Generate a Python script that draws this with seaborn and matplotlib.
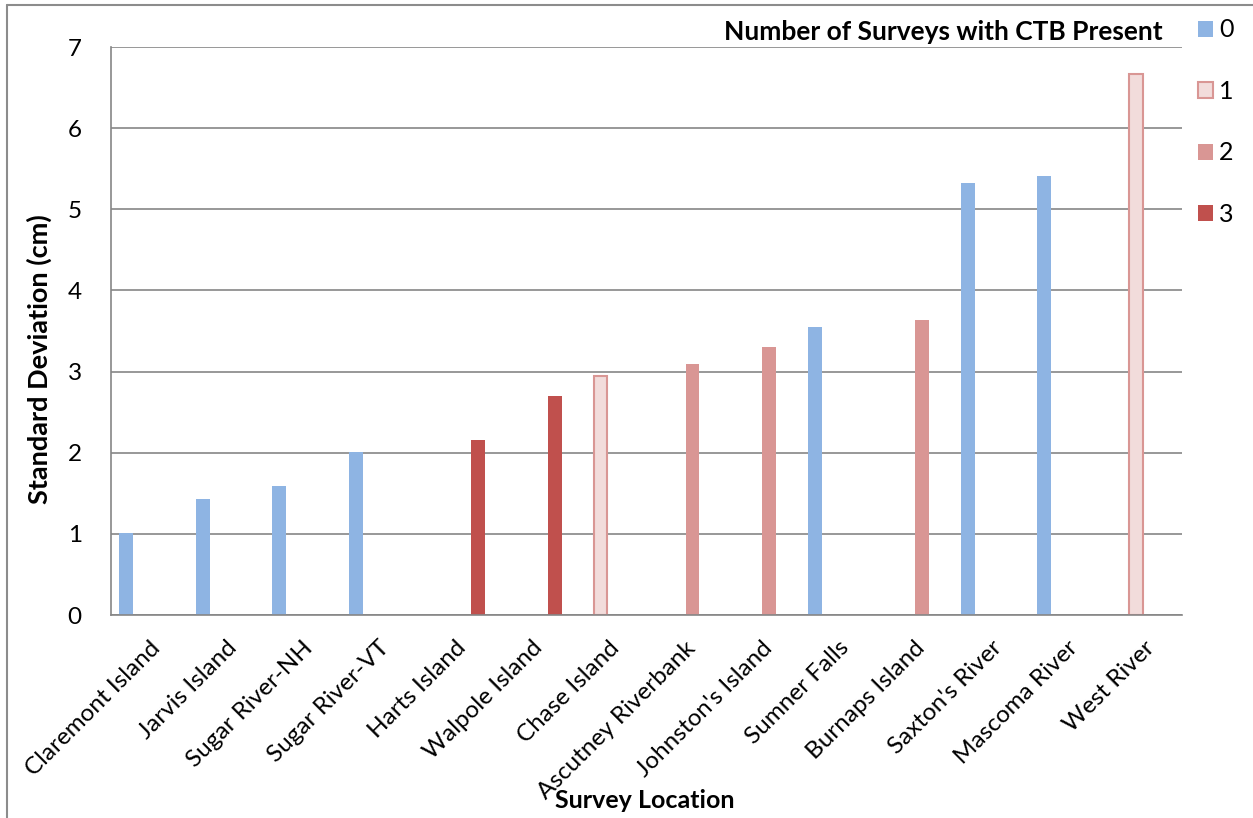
import matplotlib
matplotlib.use("Agg")
import matplotlib.pyplot as plt
import seaborn as sns
import pandas as pd
from matplotlib.lines import Line2D

# Survey locations, standard deviation of measurements, and number of surveys with CTB present
locations = ["Claremont Island", "Jarvis Island", "Sugar River-NH", "Sugar River-VT",
             "Harts Island", "Walpole Island", "Chase Island", "Ascutney Riverbank",
             "Johnston's Island", "Sumner Falls", "Burnaps Island", "Saxton's River",
             "Mascoma River", "West River"]
std_dev = [1.01, 1.43, 1.59, 2.01, 2.16, 2.70, 2.94, 3.09, 3.30, 3.55, 3.63, 5.33, 5.41, 6.67]
ctb_surveys = ["0", "0", "0", "0", "3", "3", "1", "2", "2", "0", "2", "0", "0", "1"]
hue_levels = ["0", "1", "2", "3"]
hue_colors = ["#8EB4E3", "#F2DCDB", "#D99694", "#C0504D"]
outline_color = "#D99694"

df = pd.DataFrame({"location": locations, "sd": std_dev, "ctb": ctb_surveys})

sns.set_theme(style="white")
plt.rcParams["font.family"] = ["Lato", "DejaVu Sans"]
plt.rcParams["text.color"] = "black"

W, H = 1253, 818
fig = plt.figure(figsize=(W / 100, H / 100), dpi=100)
ax = fig.add_axes([111 / W, 1 - 615 / H, (1182 - 111) / W, (615 - 47) / H])

sns.barplot(data=df, x="location", y="sd", hue="ctb", order=locations,
            hue_order=hue_levels, palette=dict(zip(hue_levels, hue_colors)),
            dodge=True, width=0.8, gap=0.1, saturation=1, linewidth=0,
            legend=True, ax=ax)

# outline the light series
for patch in ax.containers[1]:
    patch.set_edgecolor(outline_color)
    patch.set_linewidth(1.5)

grid_c = "#868686"
ax.set_ylim(0, 7)
ax.set_xlim(-0.5, len(locations) - 0.5)
ax.set_yticks(range(0, 8))
ax.yaxis.grid(True, color=grid_c, linewidth=1.2)
ax.set_axisbelow(True)

for s in ["top", "right"]:
    ax.spines[s].set_visible(False)
for s in ["left", "bottom"]:
    ax.spines[s].set_color(grid_c)
    ax.spines[s].set_linewidth(1.2)

# category boundaries as tick marks, labels at category centers
ax.set_xticks([i - 0.5 for i in range(len(locations) + 1)], minor=True)
ax.tick_params(axis="x", which="minor", length=7, width=1.2, color=grid_c, direction="out")
ax.tick_params(axis="x", which="major", length=0, pad=16)
ax.tick_params(axis="y", length=7, width=1.2, color=grid_c, direction="out", pad=14)
ax.set_xticks(range(len(locations)))
ax.set_xticklabels(locations, rotation=45, ha="right", rotation_mode="anchor",
                   fontsize=17.5, color="black")
for lab in ax.get_yticklabels():
    lab.set_fontsize(17.5)
    lab.set_color("black")

ax.set_xlabel("")
ax.set_ylabel("Standard Deviation (cm)", fontsize=19.5, fontweight="bold", color="black")
ax.yaxis.set_label_coords((52 - 111) / (1182 - 111), (615 - 359) / (615 - 47))

fig.text(645 / W, 1 - 800 / H, "Survey Location", ha="center", va="center",
         fontsize=18, fontweight="bold", color="black")

handles, labels = ax.get_legend_handles_labels()
leg = ax.legend(handles, labels, loc="upper left", bbox_to_anchor=(1.0056, 1.068),
                frameon=False, fontsize=18, handlelength=0.6, handleheight=0.6,
                handletextpad=0.25, labelspacing=1.54, borderaxespad=0)
for t in leg.get_texts():
    t.set_color("black")
legend_handles = getattr(leg, "legend_handles", None) or leg.legendHandles
legend_handles[1].set_edgecolor(outline_color)
legend_handles[1].set_linewidth(1.5)

fig.text(1163 / W, 1 - 32 / H, "Number of Surveys with CTB Present",
         ha="right", va="center", fontsize=19, fontweight="bold", color="black")

# chart frame (left and top edges)
frame_c = "#8C8C8C"
fig.add_artist(Line2D([7 / W, 7 / W], [0, 1 - 5 / H], transform=fig.transFigure,
                      color=frame_c, linewidth=1.5))
fig.add_artist(Line2D([7 / W, 1], [1 - 5 / H, 1 - 5 / H], transform=fig.transFigure,
                      color=frame_c, linewidth=1.5))

fig.savefig("out.png", dpi=100)
